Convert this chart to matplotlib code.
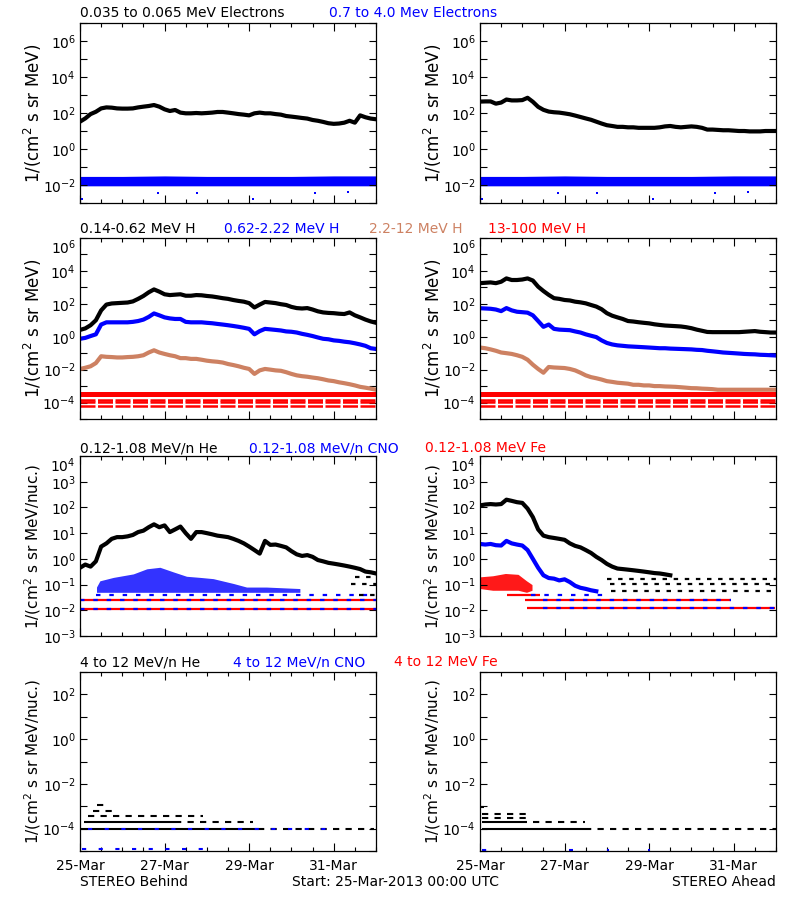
import numpy as np
import matplotlib
matplotlib.use('Agg')
import matplotlib.pyplot as plt
from matplotlib.ticker import MultipleLocator, NullLocator

BLUE = '#0000FF'
RED = '#FF0000'
BROWN = '#CD8162'

# 3-hour samples from 25-Mar 00:00 to 01-Apr 00:00, in days
t = np.arange(0, 169, 3) / 24.0

# ---- electrons (row 1) ----
elec_behind = [33, 50, 87, 117, 180, 205, 198, 180, 175, 175, 180, 205, 225, 245, 277, 225, 160, 129, 147, 105,
               96, 96, 100, 96, 100, 105, 114, 114, 105, 96, 87, 81, 74, 96, 105, 96, 96, 87, 81, 68,
               63, 58, 53, 49, 41, 37, 32, 27, 25, 26, 29, 37, 29, 74, 58, 49, 45]
elec_ahead = [430, 440, 440, 330, 380, 560, 500, 500, 520, 700, 420, 220, 150, 120, 110, 105, 95, 85, 72, 60,
              50, 42, 33, 26, 21, 19, 17, 17, 16, 16, 15, 15, 15, 15, 16, 18, 19, 17, 16, 17,
              18, 17, 15, 12, 12, 11.5, 11, 11, 10.5, 10, 10, 9.5, 9.5, 9.5, 10, 10, 10]
band_days = [0, 1, 2, 3, 4, 5, 6, 7]
hielec_hi = [0.03, 0.03, 0.032, 0.03, 0.03, 0.03, 0.032, 0.032]
hielec_lo = [0.009, 0.009, 0.009, 0.009, 0.009, 0.009, 0.009, 0.009]
hielec_stray_t = [0.04, 1.85, 2.76, 4.1, 5.56, 6.34]
hielec_stray_v = [0.0017, 0.0035, 0.0035, 0.0017, 0.0035, 0.004]

# ---- protons (row 2) ----
h1_behind = [2.6, 3.2, 5, 10, 40, 90, 105, 110, 115, 120, 140, 200, 300, 500, 750, 550, 380, 340, 360, 380,
             310, 310, 340, 330, 300, 280, 250, 220, 200, 170, 150, 135, 110, 60, 90, 130, 120, 110, 95, 85,
             65, 55, 52, 55, 45, 35, 30, 28, 27, 25, 24, 30, 20, 15, 11, 8.5, 7]
h2_behind = [0.75, 0.85, 1.1, 1.4, 5.5, 7.5, 7.5, 7.5, 7.5, 7.5, 8, 9, 11, 16, 26, 20, 15, 13, 12, 12,
             8, 7.5, 7.5, 7.5, 7, 6.6, 6, 5.5, 5, 4.5, 4, 3.5, 3, 1.4, 2.2, 3, 2.8, 2.6, 2.4, 2.1,
             2, 1.8, 1.5, 1.3, 1.1, 0.9, 0.75, 0.7, 0.6, 0.56, 0.5, 0.46, 0.4, 0.34, 0.28, 0.2, 0.18]
h3_behind = [0.011, 0.013, 0.016, 0.025, 0.065, 0.06, 0.058, 0.055, 0.055, 0.058, 0.06, 0.065, 0.075, 0.11,
             0.15, 0.11, 0.09, 0.075, 0.065, 0.05, 0.05, 0.045, 0.045, 0.04, 0.035, 0.032, 0.03, 0.027,
             0.022, 0.019, 0.016, 0.013, 0.011, 0.0055, 0.009, 0.011, 0.01, 0.009, 0.0085, 0.007, 0.0055,
             0.0045, 0.004, 0.0037, 0.0033, 0.003, 0.0026, 0.0022, 0.002, 0.0017, 0.0015, 0.0013, 0.0011,
             0.0009, 0.0008, 0.0007, 0.0006]
h1_ahead = [1800, 1900, 2000, 1800, 2200, 3500, 2800, 2800, 3000, 3500, 2600, 1100, 600, 350, 220, 200, 171,
            160, 135, 123, 107, 85, 68, 47, 27, 19, 15, 12, 9, 8.4, 7.6, 7, 6.5, 5.7, 5.2, 4.8, 4.6, 4.4,
            4.2, 3.8, 3.3, 2.7, 2.3, 1.95, 1.9, 1.9, 1.9, 1.9, 1.9, 1.9, 2.0, 2.1, 2.2, 2.0, 1.9, 1.8, 1.8]
h2_ahead = [54, 52, 50, 45, 36, 55, 40, 33, 31, 29, 20, 9, 4, 5.5, 3.0, 2.7, 2.6, 2.5, 2.1, 1.8,
            1.4, 1.15, 0.95, 0.6, 0.42, 0.34, 0.3, 0.28, 0.26, 0.25, 0.24, 0.23, 0.22, 0.21, 0.2, 0.2,
            0.19, 0.185, 0.18, 0.175, 0.17, 0.16, 0.155, 0.14, 0.13, 0.12, 0.11, 0.105, 0.1, 0.095,
            0.09, 0.087, 0.085, 0.08, 0.078, 0.075, 0.072]
h3_ahead = [0.22, 0.2, 0.17, 0.14, 0.11, 0.1, 0.09, 0.075, 0.06, 0.04, 0.02, 0.011, 0.0065, 0.0145, 0.0135,
            0.013, 0.0125, 0.011, 0.009, 0.0065, 0.0045, 0.0035, 0.003, 0.0025, 0.002, 0.0018, 0.0016,
            0.0015, 0.0014, 0.0012, 0.0012, 0.0011, 0.0011, 0.001, 0.001, 0.00095, 0.00093, 0.0009,
            0.00085, 0.0008, 0.00075, 0.00074, 0.0007, 0.00068, 0.00065, 0.0006, 0.0006, 0.0006, 0.0006,
            0.0006, 0.0006, 0.0006, 0.0006, 0.0006, 0.0006, 0.0006, 0.0006]
h4_band = (2.2e-4, 4.5e-4)          # 13-100 MeV background band
h4_rows = [1.45e-4, 1.1e-4, 6.5e-5]  # quantised background rows

# ---- 0.12-1.08 MeV/n ions (row 3) ----
he_behind = [0.45, 0.6, 0.5, 0.8, 3.0, 4.0, 6.0, 7.0, 7.0, 7.5, 8.5, 11, 12.5, 17, 22, 17, 20, 11, 14, 18,
             10, 6, 11, 11, 10, 9, 8, 7.5, 7, 6, 5, 4, 3, 2.2, 1.6, 5, 3.5, 3.6, 3.2, 2.8,
             2.0, 1.5, 1.3, 1.4, 1.2, 0.9, 0.8, 0.7, 0.65, 0.6, 0.55, 0.5, 0.45, 0.4, 0.32, 0.3, 0.27]
cno_b_days = [0.39, 0.47, 0.79, 1.26, 1.58, 1.89, 2.21, 2.52, 2.84, 3.15, 3.63, 3.94, 4.41, 5.2]
cno_b_hi = [0.08, 0.14, 0.19, 0.26, 0.41, 0.47, 0.31, 0.21, 0.19, 0.17, 0.11, 0.08, 0.08, 0.07]
cno_b_lo = [0.05, 0.05, 0.05, 0.05, 0.05, 0.05, 0.05, 0.05, 0.05, 0.05, 0.05, 0.05, 0.05, 0.05]
he_ahead = [120, 130, 135, 130, 135, 200, 180, 160, 150, 90, 42, 14, 8, 7, 6.5, 6, 5.5, 4, 3.2, 2.8,
            2.2, 1.7, 1.2, 0.9, 0.64, 0.5, 0.42, 0.4, 0.38, 0.36, 0.34, 0.32, 0.3, 0.28, 0.27, 0.25, 0.23]
cno_ahead = [3.8, 3.6, 3.8, 3.4, 3.3, 5.0, 4.0, 3.6, 3.3, 2.2, 1.0, 0.45, 0.23, 0.18, 0.17, 0.145, 0.16,
             0.125, 0.09, 0.075, 0.068, 0.06, 0.055]
fe_a_days = [0.0, 0.3, 0.6, 0.9, 1.1, 1.23]
fe_a_hi = [0.2, 0.22, 0.27, 0.25, 0.14, 0.1]
fe_a_lo = [0.07, 0.06, 0.06, 0.06, 0.05, 0.06]
# quantised count rows: (level, start day, end day)
ion_rows_behind = {'red': [(0.025, 0.0, 7.0), (0.0115, 0.0, 7.0)],
                   'blue': [(0.038, 0.39, 7.0), (0.025, 0.0, 7.0), (0.0115, 0.0, 7.0)],
                   'black': [(0.11, 6.4, 7.0), (0.19, 6.5, 7.0), (0.038, 6.6, 7.0)]}
ion_rows_ahead = {'red': [(0.025, 1.06, 5.94), (0.0125, 1.12, 6.97), (0.038, 0.63, 1.42)],
                  'blue': [(0.039, 1.21, 2.99), (0.025, 1.5, 5.94), (0.0125, 1.5, 6.97)],
                  'black': [(0.11, 3.07, 7.0), (0.058, 3.1, 7.0), (0.17, 3.0, 7.0)]}

# ---- 4-12 MeV/n ions (row 4): (level, start day, end day) ----
hi_rows_behind = {'black_solid': [(1e-4, 0.0, 4.2), (1.9e-4, 0.1, 2.24)],
                  'black_dash': [(1e-4, 4.2, 6.95), (1.9e-4, 2.24, 4.09), (3.5e-4, 0.2, 2.9),
                                 (6e-4, 0.3, 0.9), (1.1e-3, 0.4, 0.6)],
                  'blue_dash': [(1.2e-5, 0.05, 2.9), (1e-4, 0.2, 6.1)]}
hi_rows_ahead = {'black_solid': [(1e-4, 0.04, 2.48), (1.9e-4, 0.04, 1.1)],
                 'black_dash': [(1e-4, 2.48, 7.0), (1.9e-4, 1.26, 2.48), (3e-4, 0.04, 1.1),
                                (4.5e-4, 0.04, 1.1), (9e-4, 0.02, 0.1)],
                 'blue_dash': [(1.1e-5, 0.04, 0.2), (1.1e-5, 2.1, 2.2), (1.1e-5, 3.0, 3.05),
                               (1.1e-5, 3.98, 4.03)]}

xtick_labels = ['25-Mar', '27-Mar', '29-Mar', '31-Mar']

fig = plt.figure(figsize=(8, 9), dpi=100)


def panel(x0, ytop, ybot, e_lo, e_hi, every_decade, ylabel, ysize, bottom=False):
    ax = fig.add_axes([x0 / 800, 1 - ybot / 900, 296 / 800, (ybot - ytop) / 900])
    ax.set_yscale('log')
    ax.set_xlim(0, 7)
    ax.set_ylim(10.0 ** e_lo, 10.0 ** e_hi)
    exps = list(range(e_lo, e_hi + 1))
    ax.set_yticks([10.0 ** e for e in exps])
    ax.set_yticklabels(['$10^{%d}$' % e if (every_decade or e % 2 == 0) else '' for e in exps])
    ax.yaxis.set_minor_locator(NullLocator())
    ax.set_xticks([0, 2, 4, 6])
    ax.xaxis.set_minor_locator(MultipleLocator(0.5))
    if bottom:
        ax.set_xticklabels(xtick_labels)
    else:
        ax.set_xticklabels([])
    ax.tick_params(which='both', direction='in', top=True, right=True, labelsize=10, width=0.8)
    ax.tick_params(axis='y', which='major', length=5, pad=3)
    ax.tick_params(axis='x', which='major', length=6, pad=6)
    ax.tick_params(axis='x', which='minor', length=3)
    # label sitting on the top edge hangs below it, as in the original
    ax.yaxis.get_major_ticks()[-1].label1.set_verticalalignment('top')
    for s in ax.spines.values():
        s.set_linewidth(0.9)
    fig.text((x0 - 47) / 800, 1 - (ytop + ybot) / 2 / 900, ylabel, rotation=90,
             ha='center', va='center', fontsize=ysize)
    return ax


def rows(ax, spec, lw=1.6):
    styles = {'red': (RED, '-'), 'blue': (BLUE, (0, (2, 4))), 'black': ('black', (0, (2, 3))),
              'black_solid': ('black', '-'), 'black_dash': ('black', (0, (3, 3))),
              'blue_dash': (BLUE, (0, (2, 6)))}
    for key, segs in spec.items():
        c, ls = styles[key]
        for lev, a, b in segs:
            ax.plot([a, b], [lev, lev], color=c, lw=lw, ls=ls, solid_capstyle='butt')


def title(y, parts):
    for x, txt, c in parts:
        fig.text(x / 800, 1 - y / 900, txt, color=c, fontsize=10, ha='left', va='center')


lab_e = '1/(cm$^2$ s sr MeV)'
lab_n = '1/(cm$^2$ s sr MeV/nuc.)'
LX, RX = 80, 480

# Row 1: electrons
for x0, black in [(LX, elec_behind), (RX, elec_ahead)]:
    ax = panel(x0, 23, 203, -3, 7, False, lab_e, 12)
    ax.fill_between(band_days, hielec_lo, hielec_hi, color=BLUE, lw=0)
    ax.plot(hielec_stray_t, hielec_stray_v, 's', color=BLUE, ms=2, mew=0)
    ax.plot(t, black, color='black', lw=3)
title(13, [(80, '0.035 to 0.065 MeV Electrons', 'black'), (329, '0.7 to 4.0 Mev Electrons', BLUE)])

# Row 2: protons
for x0, s1, s2, s3 in [(LX, h1_behind, h2_behind, h3_behind), (RX, h1_ahead, h2_ahead, h3_ahead)]:
    ax = panel(x0, 238, 419, -5, 6, False, lab_e, 12)
    ax.fill_between([0, 7], [h4_band[0]] * 2, [h4_band[1]] * 2, color=RED, lw=0)
    for lev in h4_rows:
        ax.plot([0, 7], [lev, lev], color=RED, lw=1.8, ls=(0, (6, 1)))
    ax.plot(t, s3, color=BROWN, lw=3)
    ax.plot(t, s2, color=BLUE, lw=3)
    ax.plot(t, s1, color='black', lw=3)
title(229, [(80, '0.14-0.62 MeV H', 'black'), (224, '0.62-2.22 MeV H', BLUE),
            (369, '2.2-12 MeV H', BROWN), (488, '13-100 MeV H', RED)])

# Row 3: low-energy ions
ax = panel(LX, 456, 636, -3, 4, True, lab_n, 11)
rows(ax, ion_rows_behind)
ax.fill_between(cno_b_days, cno_b_lo, cno_b_hi, color=BLUE, lw=0, alpha=0.8)
ax.plot(t, he_behind, color='black', lw=3)

ax = panel(RX, 456, 636, -3, 4, True, lab_n, 11)
rows(ax, ion_rows_ahead)
ax.fill_between(fe_a_days, fe_a_lo, fe_a_hi, color=RED, lw=0, alpha=0.9)
ax.plot(t[:len(cno_ahead)], cno_ahead, color=BLUE, lw=3)
ax.plot(t[:len(he_ahead)], he_ahead, color='black', lw=3)
title(448, [(80, '0.12-1.08 MeV/n He', 'black'), (249, '0.12-1.08 MeV/n CNO', BLUE),
            (425, '0.12-1.08 MeV Fe', RED)])

# Row 4: high-energy ions
ax = panel(LX, 672, 851, -5, 3, False, lab_n, 11, bottom=True)
rows(ax, hi_rows_behind, lw=1.5)
ax = panel(RX, 672, 851, -5, 3, False, lab_n, 11, bottom=True)
rows(ax, hi_rows_ahead, lw=1.5)
title(662, [(80, '4 to 12 MeV/n He', 'black'), (233, '4 to 12 MeV/n CNO', BLUE),
            (394, '4 to 12 MeV Fe', RED)])

fig.text(80 / 800, 1 - 882 / 900, 'STEREO Behind', fontsize=10, va='center', ha='left')
fig.text(292 / 800, 1 - 882 / 900, 'Start: 25-Mar-2013 00:00 UTC', fontsize=10, va='center', ha='left')
fig.text(776 / 800, 1 - 882 / 900, 'STEREO Ahead', fontsize=10, va='center', ha='right')

fig.savefig('out.png', dpi=100, facecolor='white')
